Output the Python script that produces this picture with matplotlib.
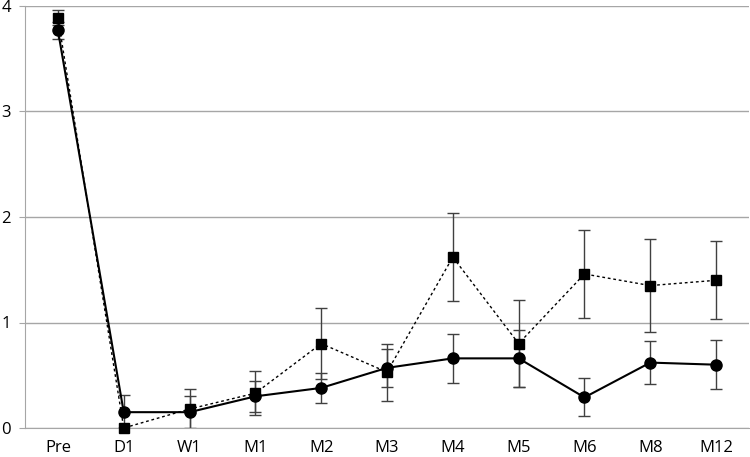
import matplotlib
matplotlib.use("Agg")
import matplotlib.pyplot as plt
import numpy as np

categories = ["Pre", "D1", "W1", "M1", "M2", "M3", "M4", "M5", "M6", "M8", "M12"]

circle_vals = [3.77, 0.15, 0.15, 0.30, 0.38, 0.57, 0.66, 0.66, 0.29, 0.62, 0.60]
circle_err = [0.08, 0.16, 0.15, 0.15, 0.14, 0.18, 0.23, 0.27, 0.18, 0.20, 0.23]

square_vals = [3.89, 0.00, 0.18, 0.33, 0.80, 0.53, 1.62, 0.80, 1.46, 1.35, 1.40]
square_err = [0.07, 0.00, 0.19, 0.21, 0.34, 0.27, 0.42, 0.41, 0.42, 0.44, 0.37]

plt.rcParams["font.family"] = ["Open Sans", "DejaVu Sans"]

fig = plt.figure(figsize=(7.5, 4.57), dpi=100)
ax = fig.add_axes([25 / 750, 29 / 457, 724 / 750, 422 / 457])

x = np.arange(len(categories))

ax.errorbar(x, square_vals, yerr=square_err, fmt="none", ecolor="#404040",
            elinewidth=1, capsize=4, capthick=1, zorder=2)
ax.errorbar(x, circle_vals, yerr=circle_err, fmt="none", ecolor="#404040",
            elinewidth=1, capsize=4, capthick=1, zorder=2)

ax.plot(x, square_vals, color="black", linestyle=(0, (2, 2)), linewidth=1,
        marker="s", markersize=7, zorder=3, clip_on=False)
ax.plot(x, circle_vals, color="black", linestyle="-", linewidth=1.5,
        marker="o", markersize=8, zorder=4, clip_on=False)

ax.set_xlim(-0.5, len(categories) - 0.5)
ax.set_ylim(0, 4)
ax.set_yticks([0, 1, 2, 3, 4])
ax.set_xticks(x)
ax.set_xticklabels(categories)

ax.yaxis.grid(True, color="#a6a6a6", linewidth=1)
ax.set_axisbelow(True)
for side in ["top", "right"]:
    ax.spines[side].set_visible(False)
ax.spines["left"].set_color("#a6a6a6")
ax.spines["bottom"].set_color("#a6a6a6")
ax.tick_params(axis="x", length=0, pad=9, labelsize=12)
ax.tick_params(axis="y", length=4.5, color="#a6a6a6", pad=5.5, labelsize=12)

fig.savefig("out.png", dpi=100)
